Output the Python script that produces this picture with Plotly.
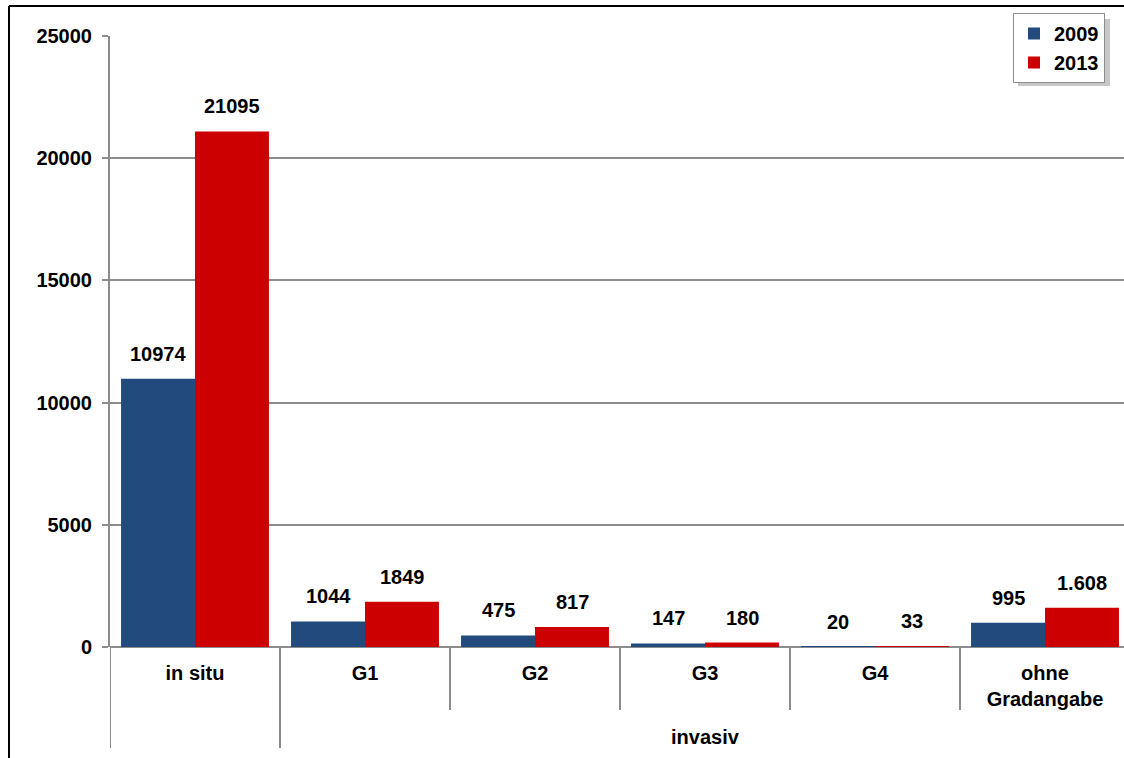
"""
Grouped bars: in situ vs invasiv grades, 2009 vs 2013
"""

import plotly.graph_objects as go

categories = ['in situ', 'G1', 'G2', 'G3', 'G4', 'ohne<br>Gradangabe']
years = ['2009', '2013']
values_2009 = [10974, 1044, 475, 147, 20, 995]
values_2013 = [21095, 1849, 817, 180, 33, 1608]
labels_2009 = ['10974', '1044', '475', '147', '20', '995']
labels_2013 = ['21095', '1849', '817', '180', '33', '1.608']
y_ticks = [0, 5000, 10000, 15000, 20000, 25000]
group_label = 'invasiv'

colors = {'2009': '#234a7c', '2013': '#cc0000'}
grid_color = '#8c8c8c'
FAMILY = 'Liberation Sans, Arial, sans-serif'
font = dict(family=FAMILY, size=20, color='black')
bold_font = dict(family=FAMILY, size=20, color='black', weight='bold')

W, H = 1124, 758
ML, MR, MT, MB = 110, 0, 36, 111
PW, PH = W - ML - MR, H - MT - MB


def px_x(px):
    return (px - ML) / PW


def px_y(py):
    return (H - MB - py) / PH


fig = go.Figure()
for year, vals in zip(years, [values_2009, values_2013]):
    fig.add_trace(go.Bar(x=categories, y=vals, name=year,
                         marker=dict(color=colors[year], line=dict(width=0))))

# value labels above the bars
for vals, texts, shift in [(values_2009, labels_2009, -37), (values_2013, labels_2013, 37)]:
    for cat, val, txt in zip(categories, vals, texts):
        fig.add_annotation(x=cat, y=val, text=f'<b>{txt}</b>', showarrow=False,
                           xshift=shift, yshift=12, yanchor='bottom', font=font)

# category dividers below the axis
n = len(categories)
ncat_span = PW / 170.0
for i in range(n):
    xb = i - 0.5
    bottom = px_y(748) if i <= 1 else px_y(710)
    fig.add_shape(type='line', xref='x', yref='paper', x0=xb, x1=xb, y0=0, y1=bottom,
                  line=dict(color=grid_color, width=2))

fig.add_annotation(x=categories[3], y=px_y(737), yref='paper', yanchor='middle',
                   text=f'<b>{group_label}</b>', showarrow=False, font=font)

# outer frame (clipped at right and bottom)
fig.add_shape(type='line', xref='paper', yref='paper', x0=px_x(9), x1=px_x(9),
              y0=px_y(6), y1=px_y(760), line=dict(color='black', width=2))
fig.add_shape(type='line', xref='paper', yref='paper', x0=px_x(9), x1=px_x(1130),
              y0=px_y(6), y1=px_y(6), line=dict(color='black', width=2))

# legend shadow
fig.add_shape(type='rect', xref='paper', yref='paper', x0=px_x(1018), x1=px_x(1110),
              y0=px_y(86), y1=px_y(19), fillcolor='rgba(0,0,0,0.22)', line=dict(width=0),
              layer='above')

fig.update_layout(
    width=W, height=H,
    margin=dict(l=ML, r=MR, t=MT, b=MB, pad=0),
    paper_bgcolor='white', plot_bgcolor='white',
    barmode='group', bargap=0.13, bargroupgap=0,
    font=font,
    showlegend=True,
    legend=dict(x=px_x(1105), y=px_y(13), xanchor='right', yanchor='top',
                bgcolor='white', bordercolor='#8c8c8c', borderwidth=1,
                font=bold_font, itemwidth=30, tracegroupgap=0),
    xaxis=dict(type='category', range=[-0.5, -0.5 + ncat_span], showgrid=False,
               showline=False, ticks='', ticklabelstandoff=12, tickfont=bold_font),
    yaxis=dict(range=[0, 25000], tickvals=y_ticks, showgrid=True, gridcolor=grid_color,
               gridwidth=2, zeroline=True, zerolinecolor=grid_color, zerolinewidth=2,
               showline=True, linecolor=grid_color, linewidth=2,
               ticks='outside', ticklen=6, tickcolor=grid_color, tickwidth=2,
               ticklabelstandoff=6, tickformat='d', tickfont=bold_font),
)

fig.write_html("out.html", config={'displayModeBar': False},
               post_script="document.body.style.margin='0';")
